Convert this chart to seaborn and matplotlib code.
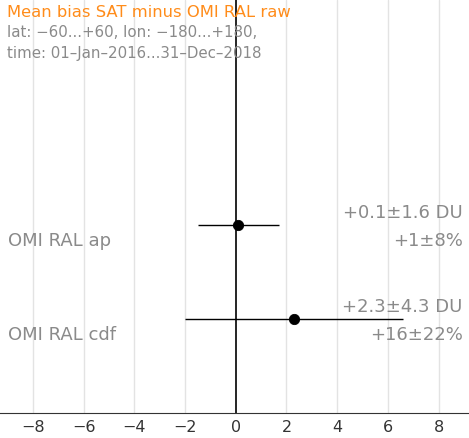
import matplotlib
matplotlib.use("Agg")
import matplotlib.pyplot as plt
import seaborn as sns
import pandas as pd

# Mean bias per product (DU), its spread, and the relative bias (%)
products = ["OMI RAL ap", "OMI RAL cdf"]
bias_du = [0.1, 2.3]
sd_du = [1.6, 4.3]
bias_pct = [1, 16]
sd_pct = [8, 22]
du_labels = ["+0.1\u00b11.6 DU", "+2.3\u00b14.3 DU"]
pct_labels = ["+1\u00b18%", "+16\u00b122%"]
xticks = [-8, -6, -4, -2, 0, 2, 4, 6, 8]

title = "Mean bias SAT minus OMI RAL raw"
subtitle1 = "lat: \u221260...+60, lon: \u2212180...+180,"
subtitle2 = "time: 01\u2013Jan\u20132016...31\u2013Dec\u20132018"

sns.set_style("white")
plt.rcParams["font.family"] = ["DejaVu Sans"]

df = pd.DataFrame({"product": products, "bias": bias_du, "sd": sd_du,
                   "row": range(len(products))})

fig = plt.figure(figsize=(4.69, 4.38), dpi=100)
ax = fig.add_axes([0, 0.057, 1, 0.943])

for x in xticks:
    if x != 0:
        ax.axvline(x, color="#e3e3e3", lw=1, zorder=0)
ax.axvline(0, color="black", lw=1.2, zorder=1)

ax.hlines(df["row"], df["bias"] - df["sd"], df["bias"] + df["sd"],
          color="black", lw=1, zorder=2)
sns.scatterplot(data=df, x="bias", y="row", ax=ax, color="black", s=55,
                edgecolor="black", zorder=3, legend=False)

ax.set_xlim(-9.3, 9.2)
ax.set_ylim(2.0, -2.39)
ax.set_xticks(xticks)
ax.set_xticklabels([("\u2212%d" % -t) if t < 0 else str(t) for t in xticks],
                   fontsize=11.5)
ax.tick_params(axis="x", direction="out", length=4, color="#333333",
               labelcolor="#333333", pad=1)
ax.set_yticks([])
ax.set_xlabel("")
ax.set_ylabel("")
for side in ["top", "left", "right"]:
    ax.spines[side].set_visible(False)
ax.spines["bottom"].set_color("#333333")

grey = "#8a8a8a"
for i, name in enumerate(products):
    ax.text(-9.0, i + 0.17, name, fontsize=13, color=grey,
            ha="left", va="center")
    ax.text(8.95, i - 0.13, du_labels[i], fontsize=13, color=grey,
            ha="right", va="center")
    ax.text(8.95, i + 0.17, pct_labels[i], fontsize=13, color=grey,
            ha="right", va="center")

fig.text(0.015, 0.972, title, fontsize=11.8, color="#ff8c1a",
         ha="left", va="center")
fig.text(0.015, 0.925, subtitle1, fontsize=10.8, color=grey,
         ha="left", va="center")
fig.text(0.015, 0.878, subtitle2, fontsize=10.8, color=grey,
         ha="left", va="center")

fig.savefig("out.png", dpi=100)
